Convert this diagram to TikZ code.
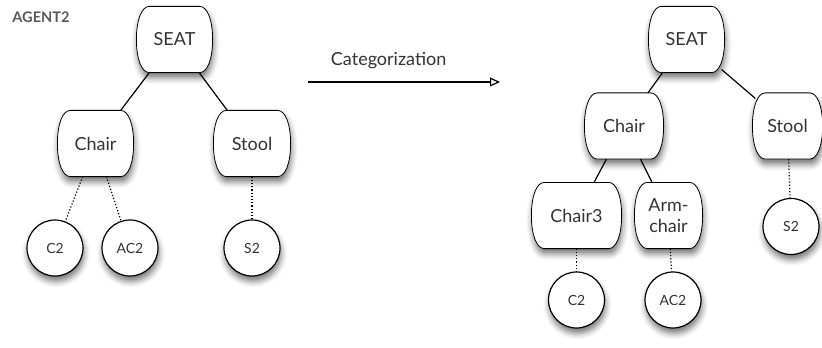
\documentclass[tikz,border=0pt]{standalone}
\usepackage{fontspec}
\setmainfont{Lato}
\usetikzlibrary{positioning,shadows.blur,arrows.meta,backgrounds}

\begin{document}
\begin{tikzpicture}[x=0.5pt,y=-0.5pt,on grid,line width=0.6pt,
   softshadow/.style={blur shadow={shadow xshift=0.5pt,shadow yshift=-2.6pt,shadow blur radius=3pt,shadow opacity=55}},
   concept/.style={rectangle,minimum width=34.5pt,minimum height=32.5pt,inner sep=1pt,
      text=black!80,font=\fontsize{9}{10.5}\selectfont,align=center},
   cushion/.style={draw,fill=white,softshadow},
   member/.style={circle,draw,fill=white,softshadow,minimum size=28pt,inner sep=0pt,
      text=black!80,font=\fontsize{7}{8}\selectfont},
   inst/.style={densely dotted}]
   \useasboundingbox (0,0) rectangle (822,347);

   \node (agent) [text=black!65,font=\bfseries\fontsize{7.3}{8}\selectfont] at (41,17) {AGENT2};

   \node[concept] (seatL) at (174.5,39.5) {SEAT};
   \node[concept] (chairL) [below left=52pt and 39.5pt of seatL] {Chair};
   \node[concept,minimum width=35pt] (stoolL) [below right=52pt and 38.75pt of seatL] {Stool};
   \node[member] (c2L)  [below left=52.25pt and 20.25pt of chairL] {C2};
   \node[member] (ac2L) [below right=52.25pt and 17.25pt of chairL] {AC2};
   \node[member] (s2L)  [below=52.25pt of stoolL] {S2};

   \coordinate (catfrom) at (308,82);
   \coordinate (catto) at (500,82);

   \node[concept] (seatR) at (686.5,39.5) {SEAT};
   \node[concept,minimum width=36pt] (chairR) [below left=43.25pt and 31.25pt of seatR] {Chair};
   \node[concept,minimum width=31.5pt] (stoolR) [below right=43.25pt and 50.5pt of seatR] {Stool};
   \node[concept,minimum width=41.5pt] (chair3) [below left=44.75pt and 23.75pt of chairR] {Chair3};
   \node[concept,minimum width=30.5pt] (armchair) [below right=44.75pt and 22.25pt of chairR] {Arm-\\chair};
   \node[member] (c2R)  [below=42.25pt of chair3] {C2};
   \node[member] (ac2R) [below right=42.25pt and 2.25pt of armchair] {AC2};
   \node[member] (s2R)  [below right=50.25pt and 1.75pt of stoolR] {S2};

   \begin{scope}[on background layer]
   \foreach \n in {seatL,chairL,stoolL,seatR,chairR,stoolR,chair3,armchair}
      \draw[cushion] ([xshift=5pt]\n.north west) -- ([xshift=-5pt]\n.north east)
         .. controls ([xshift=-1pt]\n.north east) and ([xshift=1.5pt,yshift=-7pt]\n.north east) .. ([xshift=1.5pt]\n.east)
         .. controls ([xshift=1.5pt,yshift=7pt]\n.south east) and ([xshift=-1pt]\n.south east) .. ([xshift=-5pt]\n.south east)
         -- ([xshift=5pt]\n.south west)
         .. controls ([xshift=1pt]\n.south west) and ([xshift=-1.5pt,yshift=7pt]\n.south west) .. ([xshift=-1.5pt]\n.west)
         .. controls ([xshift=-1.5pt,yshift=-7pt]\n.north west) and ([xshift=1pt]\n.north west) .. cycle;
   \end{scope}

   \path
        (seatL) edge (chairL)
        (seatL) edge (stoolL)
        (chairL) edge[inst] (c2L)
        (chairL) edge[inst] (ac2L)
        (stoolL) edge[inst] (s2L)
        (catfrom) edge[-{Triangle[open,length=5pt,width=4.5pt]}]
           node[above=3pt,pos=.42,text=black!80,font=\fontsize{9}{10.5}\selectfont] {Categorization} (catto)
        (seatR) edge (chairR)
        (seatR) edge (stoolR)
        (chairR) edge (chair3)
        (chairR) edge (armchair)
        (chair3) edge[inst] (c2R)
        (armchair) edge[inst] (ac2R)
        (stoolR) edge[inst] (s2R)
        ;
\end{tikzpicture}
\end{document}
